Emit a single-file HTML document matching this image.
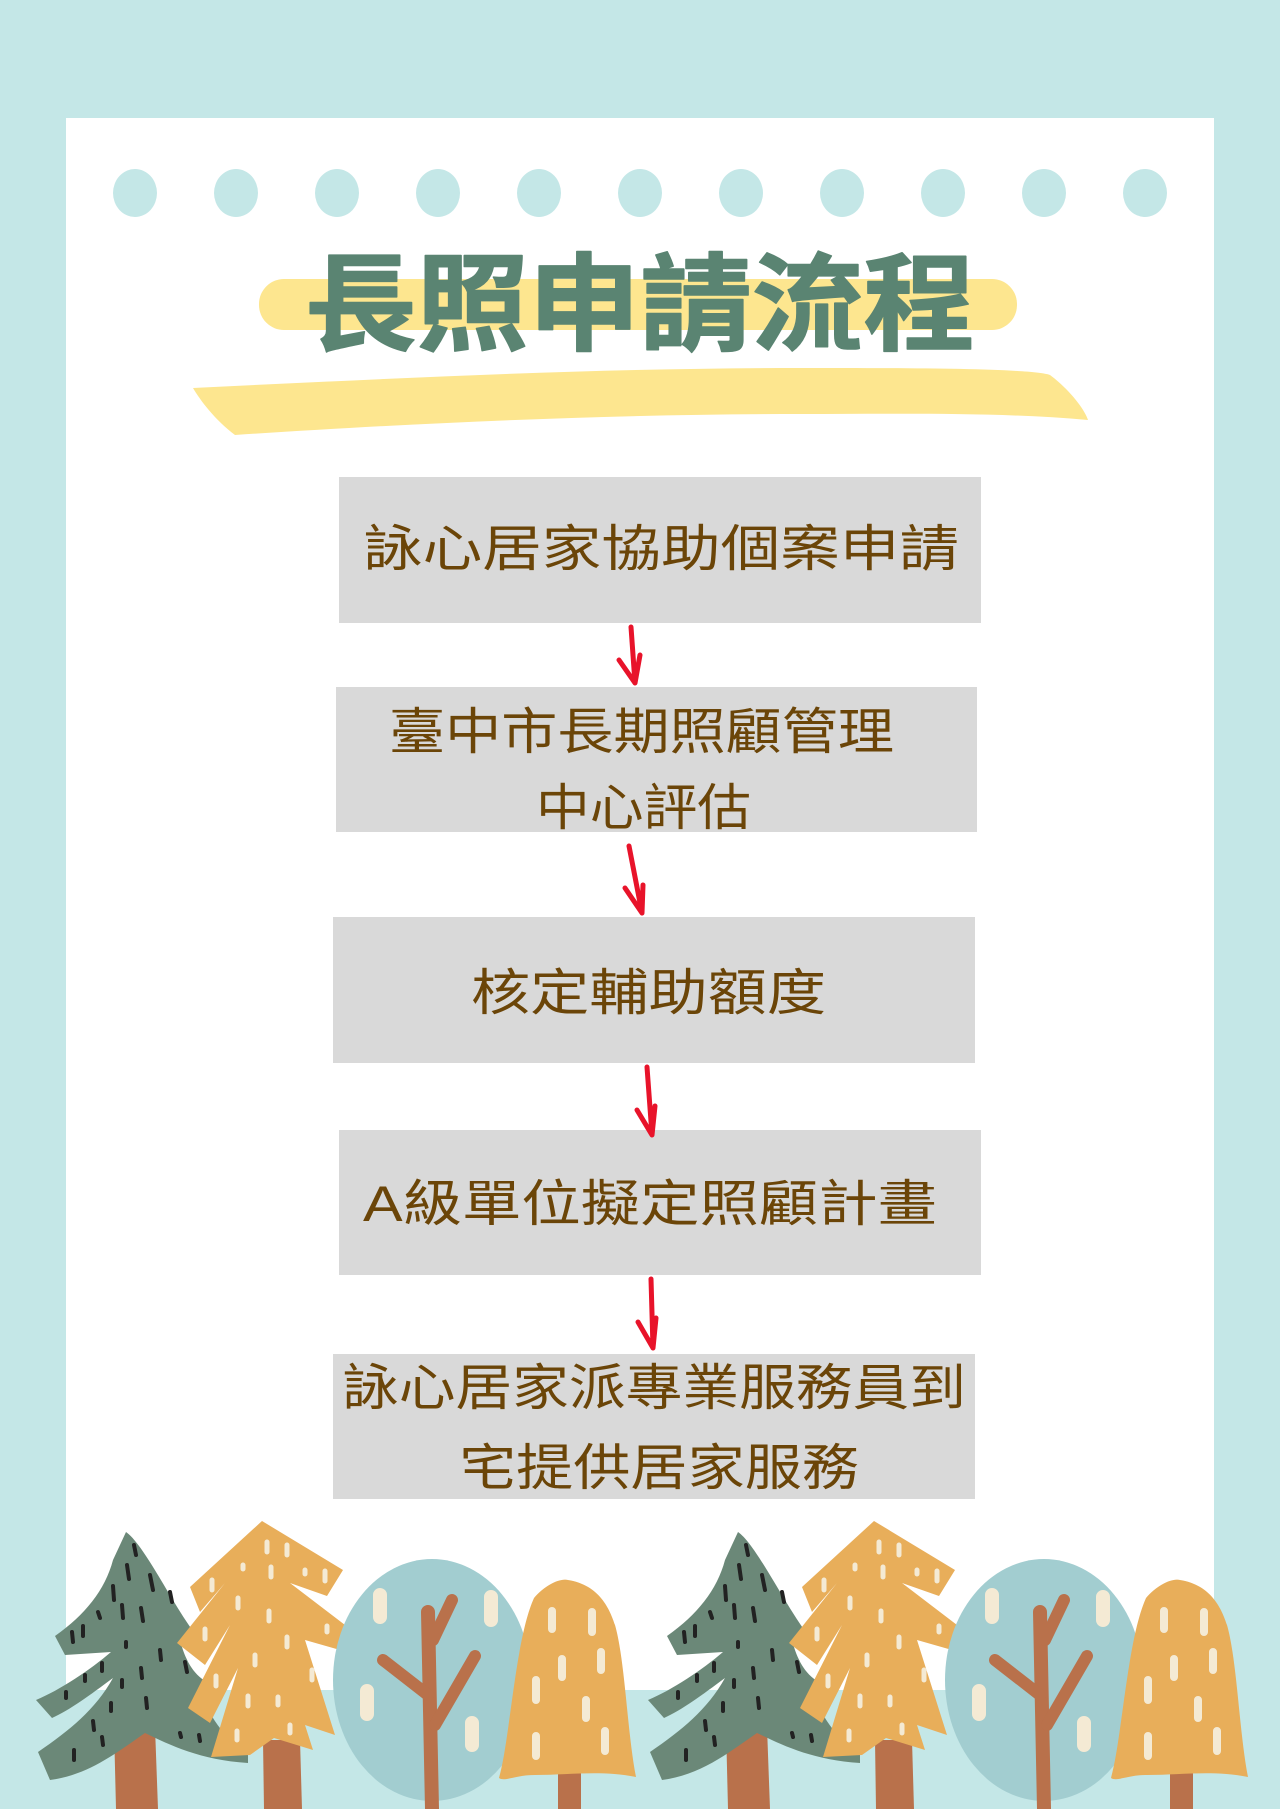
<!DOCTYPE html>
<html><head><meta charset="utf-8"><style>
html,body{margin:0;padding:0;background:#c4e7e7;}
svg{display:block}
.t{font-family:"Liberation Sans","Noto Sans CJK TC",sans-serif;fill:#6b4508;font-size:50px;}
</style></head><body>
<svg width="1280" height="1809" viewBox="0 0 1280 1809" xmlns="http://www.w3.org/2000/svg">
<rect width="1280" height="1809" fill="#c4e7e7"/>
<rect x="66" y="118" width="1148" height="1572" fill="#ffffff"/>
<g fill="#c4e7e7">
<ellipse cx="135" cy="193" rx="22" ry="24"/><ellipse cx="236" cy="193" rx="22" ry="24"/><ellipse cx="337" cy="193" rx="22" ry="24"/><ellipse cx="438" cy="193" rx="22" ry="24"/><ellipse cx="539" cy="193" rx="22" ry="24"/><ellipse cx="640" cy="193" rx="22" ry="24"/><ellipse cx="741" cy="193" rx="22" ry="24"/><ellipse cx="842" cy="193" rx="22" ry="24"/><ellipse cx="943" cy="193" rx="22" ry="24"/><ellipse cx="1044" cy="193" rx="22" ry="24"/><ellipse cx="1145" cy="193" rx="22" ry="24"/>
</g>
<rect x="259" y="279" width="758" height="51" rx="25" fill="#fde68f"/>
<path d="M193,388 C400,378 600,368 800,368 C900,368 1030,368 1050,375 C1070,390 1085,410 1088,420 C1000,412 900,414 800,414 C600,414 400,424 235,435 C215,420 200,400 193,388 Z" fill="#fde68f"/>
<text x="640" y="342" text-anchor="middle" font-family="'Noto Sans CJK TC',sans-serif" font-weight="700" font-size="106" fill="#5a8472" stroke="#5a8472" stroke-width="1.5" stroke-linejoin="round" textLength="670" lengthAdjust="spacingAndGlyphs">長照申請流程</text>
<g fill="#d9d9d9">
<rect x="339" y="477" width="642" height="146"/>
<rect x="336" y="687" width="641" height="145"/>
<rect x="333" y="917" width="642" height="146"/>
<rect x="339" y="1130" width="642" height="145"/>
<rect x="333" y="1354" width="642" height="145"/>
</g>
<text class="t" x="363" y="566" textLength="596" lengthAdjust="spacingAndGlyphs">詠心居家協助個案申請</text>
<text class="t" x="389" y="749" textLength="505" lengthAdjust="spacingAndGlyphs">臺中市長期照顧管理</text>
<text class="t" x="536" y="825" textLength="215" lengthAdjust="spacingAndGlyphs">中心評估</text>
<text class="t" x="471" y="1010" textLength="355" lengthAdjust="spacingAndGlyphs">核定輔助額度</text>
<text class="t" x="363" y="1221" textLength="574" lengthAdjust="spacingAndGlyphs">A級單位擬定照顧計畫</text>
<text class="t" x="342" y="1405" textLength="624" lengthAdjust="spacingAndGlyphs">詠心居家派專業服務員到</text>
<text class="t" x="459" y="1485" textLength="400" lengthAdjust="spacingAndGlyphs">宅提供居家服務</text>
<g stroke="#e8132a" stroke-width="5" fill="none" stroke-linecap="round" stroke-linejoin="round">
<path d="M631,627 L635,683 M619,660 L635,683 L640,655"/>
<path d="M629,846 L642,913 M625,888 L642,913 L643,885"/>
<path d="M647,1067 L652,1135 M637,1110 L652,1135 L655,1106"/>
<path d="M651,1279 L653,1348 M638,1322 L653,1348 L656,1318"/>
</g>
<defs>
<g id="grp">
<path d="M114,1727 L155,1727 L158,1809 L116,1809 Z" fill="#b9714b"/>
<path d="M126,1532 C145,1545 175,1610 200,1640 L180,1640 C185,1660 195,1680 215,1685 L200,1690 C210,1720 230,1745 248,1750 L248,1763 C200,1760 170,1745 145,1733 C120,1750 90,1775 50,1780 L38,1752 C70,1730 95,1710 113,1678 C90,1695 70,1710 52,1718 L36,1700 C60,1690 90,1670 111,1652 L65,1655 L55,1636 C85,1615 105,1590 113,1560 Z" fill="#6b8878"/>
<g stroke="#222" stroke-width="4" stroke-linecap="round">
<path d="M134,1545 l2,10 M127,1565 l2,14 M113,1586 l1,14 M150,1575 l3,15 M170,1592 l2,10 M122,1605 l1,13 M141,1608 l2,13 M98,1612 l2,6 M83,1626 l0,10 M72,1632 l1,10 M126,1642 l0,5 M160,1650 l1,10 M185,1662 l2,10 M102,1663 l0,8 M85,1675 l0,6 M141,1668 l1,10 M122,1680 l0,7 M66,1692 l0,6 M146,1698 l1,10 M111,1703 l0,8 M93,1721 l1,9 M102,1737 l1,8 M74,1750 l0,10 M180,1733 l1,4 M199,1735 l1,6"/>
</g>
<path d="M263,1740 L300,1740 L302,1809 L264,1809 Z" fill="#b9714b"/>
<path d="M262,1521 L343,1570 L327,1596 L290,1583 L345,1625 L340,1650 L305,1640 L335,1735 L305,1725 L313,1750 L274,1738 L250,1755 L211,1757 L238,1668 L210,1723 L188,1708 L230,1625 L205,1665 L177,1643 L225,1583 L200,1612 L190,1587 Z" fill="#e8ae5a"/>
<g stroke="#f4ead4" stroke-width="5" stroke-linecap="round">
<path d="M267,1542 l0,10 M287,1545 l0,10 M243,1565 l0,4 M271,1567 l0,10 M305,1570 l0,4 M325,1571 l0,10 M212,1580 l0,10 M238,1598 l0,10 M269,1611 l0,10 M327,1626 l0,6 M205,1629 l0,10 M287,1637 l0,10 M255,1655 l0,10 M312,1670 l0,10 M216,1676 l0,10 M248,1696 l0,10 M278,1697 l0,8 M237,1731 l0,9 M290,1725 l0,8"/>
</g>
<ellipse cx="432" cy="1680" rx="99" ry="121" fill="#a2cdd0"/>
<g stroke="#f4ead4" stroke-width="14" stroke-linecap="round">
<path d="M380,1595 l0,22 M491,1597 l0,23 M367,1691 l0,23 M472,1723 l0,22"/>
</g>
<g stroke="#b9714b" stroke-linecap="round" fill="none">
<path d="M428,1612 L432,1809" stroke-width="14"/>
<path d="M433,1640 L452,1600" stroke-width="12"/>
<path d="M383,1660 L428,1695 M435,1725 L475,1656" stroke-width="12"/>
</g>
<path d="M558,1770 L581,1770 L581,1809 L558,1809 Z" fill="#b9714b"/>
<path d="M499,1778 C510,1740 515,1640 534,1598 C545,1585 560,1578 568,1580 C600,1585 610,1610 615,1625 C625,1660 627,1730 636,1777 C600,1770 570,1775 535,1775 C515,1775 505,1782 499,1778 Z" fill="#e8ae5a"/>
<g stroke="#f4ead4" stroke-width="8" stroke-linecap="round">
<path d="M552,1611 l0,18 M592,1612 l0,20 M562,1659 l0,18 M601,1652 l0,18 M536,1680 l0,20 M586,1700 l0,18 M536,1736 l0,20 M605,1731 l0,20"/>
</g>
</g>
</defs>
<use href="#grp"/>
<use href="#grp" transform="translate(612,0)"/>
</svg>
</body></html>
